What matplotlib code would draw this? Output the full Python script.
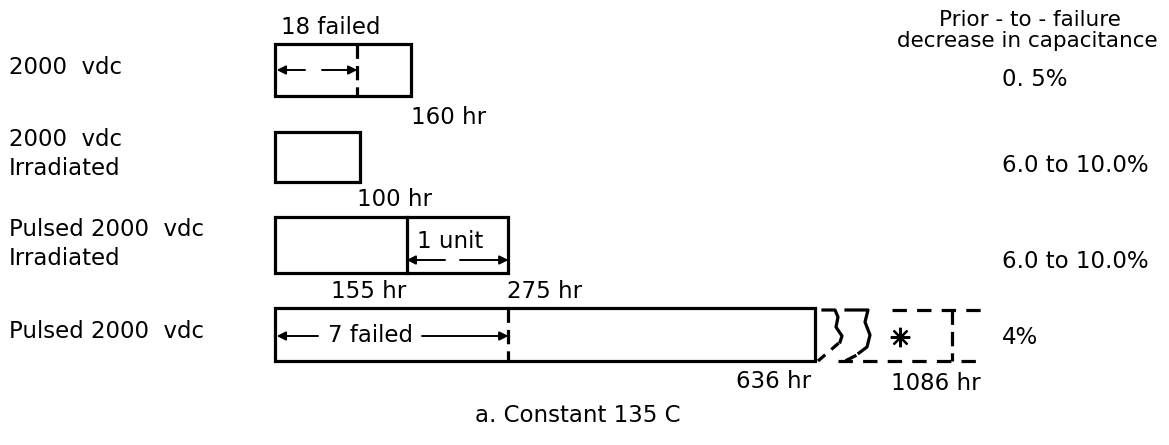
import matplotlib
matplotlib.use("Agg")
import matplotlib.pyplot as plt
from matplotlib.patches import Rectangle

# test conditions (left column)
conditions = ["2000  vdc", "2000  vdc\nIrradiated", "Pulsed 2000  vdc\nIrradiated", "Pulsed 2000  vdc"]
# hours at end of each test bar
end_hours = [160, 100, 275, 636]
end_labels = ["160 hr", "100 hr", "275 hr", "636 hr"]
# inner divider of each bar (first failures)
split_hours = [97, None, 155, 275]
split_labels = [None, None, "155 hr", "275 hr"]
notes = ["18 failed", None, "1 unit", "7 failed"]
# broken extension of the last bar
ext_hours = 1086
ext_label = "1086 hr"
# right column
cap_header = ["Prior - to - failure", "decrease in capacitance"]
cap_decrease = ["0. 5%", "6.0 to 10.0%", "6.0 to 10.0%", "4%"]
caption = "a. Constant 135 C"

# layout (pixel rows, px per hour)
X0 = 275
PX_PER_HR = 0.849
bar_rows = [(44, 96), (132, 182), (217, 273), (308, 361)]
label_y = [67, 154, 244, 332]
cap_y = [80, 166, 261, 338]
FS = 16.5
LW = 2.3


def px(p):
    # pixel column -> hour axis position
    return (p - X0) / PX_PER_HR


def dim_arrow(ax, x_from, x_to, y):
    ax.annotate('', xy=(x_to, y), xytext=(x_from, y),
                arrowprops=dict(arrowstyle='-|>', lw=1.4, color='black',
                                mutation_scale=13, shrinkA=0, shrinkB=0))


def main():
    fig = plt.figure(figsize=(11.69, 4.45), dpi=100)
    ax = fig.add_axes([0, 0, 1, 1])
    ax.set_xlim(px(0), px(1169))
    ax.set_ylim(445, 0)
    ax.axis('off')

    split_dashed = [True, None, False, True]

    for i, (top, bot) in enumerate(bar_rows):
        ax.add_patch(Rectangle((0, top), end_hours[i], bot - top, fill=False,
                               lw=LW, ec='black', joinstyle='miter'))
        if split_hours[i] is not None:
            ls = (0, (4.5, 2.2)) if split_dashed[i] else '-'
            ax.plot([split_hours[i]] * 2, [top, bot], color='black', lw=LW, ls=ls)
        ax.text(px(9), label_y[i], conditions[i], fontsize=FS, ha='left',
                va='center', linespacing=1.3)
        ax.text(px(1002), cap_y[i], cap_decrease[i], fontsize=FS, ha='left', va='center')

    # end-of-test labels
    ax.text(end_hours[0], bar_rows[0][1] + 21, end_labels[0], fontsize=FS, ha='left', va='center')
    ax.text(end_hours[1] - 4, bar_rows[1][1] + 18, end_labels[1], fontsize=FS, ha='left', va='center')
    ax.text(end_hours[2] - 2, bar_rows[2][1] + 19, end_labels[2], fontsize=FS, ha='left', va='center')
    ax.text(end_hours[3] - 4, bar_rows[3][1] + 20, end_labels[3], fontsize=FS, ha='right', va='center')
    ax.text(split_hours[2], bar_rows[2][1] + 19, split_labels[2], fontsize=FS, ha='right', va='center')

    # bar 1: 18 failed
    ax.text(px(331), 28, notes[0], fontsize=FS, ha='center', va='center')
    dim_arrow(ax, px(305), 2, 70)
    dim_arrow(ax, px(322), split_hours[0], 70)

    # bar 3: 1 unit
    ax.text(px(450), 242, notes[2], fontsize=FS, ha='center', va='center')
    dim_arrow(ax, px(445), split_hours[2], 260)
    dim_arrow(ax, px(460), end_hours[2], 260)

    # bar 4: 7 failed
    ax.text(px(371), 335, notes[3], fontsize=FS, ha='center', va='center')
    dim_arrow(ax, px(318), 2, 336)
    dim_arrow(ax, px(422), split_hours[3], 336)

    # broken extension of last bar
    top, bot = bar_rows[3]
    dash = (0, (4.5, 3.2))
    ax.plot([px(818), px(840)], [bot, 342], color='black', lw=LW, ls=(0, (3, 2.5)))
    ax.plot([px(p) for p in [823, 835, 838, 836, 842, 840]],
            [310, 310, 317, 327, 336, 342], color='black', lw=LW)
    ax.plot([px(p) for p in [846, 868, 865, 870, 867, 859]],
            [310, 310, 322, 335, 347, 353], color='black', lw=LW)
    ax.plot([px(855), px(847)], [356, 360], color='black', lw=LW)
    ax.plot([px(892), px(984)], [310, 310], color='black', lw=LW, ls=dash)
    ax.plot([px(838), px(981)], [bot, bot], color='black', lw=LW, ls=dash)
    x_ext = px(952)  # axis is broken: 1086 hr not to scale
    ax.plot([x_ext, x_ext], [310, bot], color='black', lw=LW, ls=(0, (4.5, 2.2)))
    ax.plot(px(900), 337, marker=(8, 2, 0), ms=14, mew=1.6, color='black')
    ax.text(px(981), 383, ext_label, fontsize=FS, ha='right', va='center')

    # right column header
    ax.text(px(1030), 20, cap_header[0], fontsize=15.5, ha='center', va='center')
    ax.text(px(1027), 41, cap_header[1], fontsize=15.5, ha='center', va='center')

    ax.text(px(578), 415, caption, fontsize=FS, ha='center', va='center')

    fig.savefig('out.png', dpi=100)


if __name__ == "__main__":
    main()
